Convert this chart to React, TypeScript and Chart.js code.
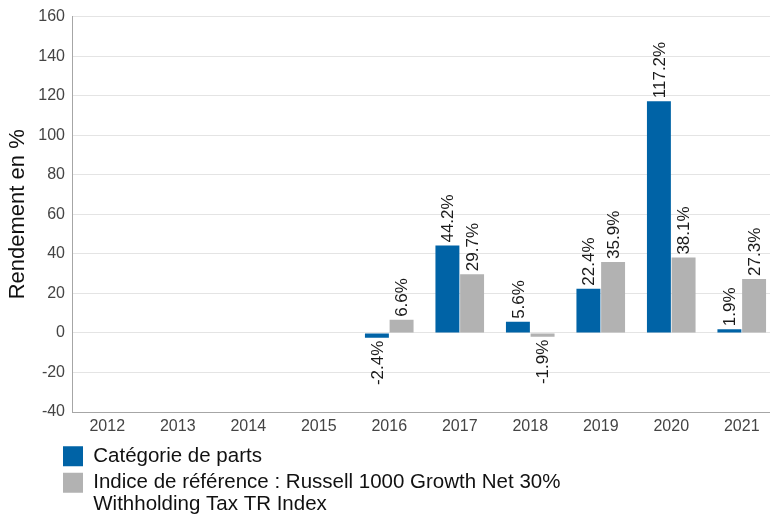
import React, { useEffect, useRef } from "react";
import { Chart, registerables } from "chart.js";

Chart.register(...registerables);

const years = ["2012", "2013", "2014", "2015", "2016", "2017", "2018", "2019", "2020", "2021"];
const fundReturns = [null, null, null, null, -2.4, 44.2, 5.6, 22.4, 117.2, 1.9];
const benchReturns = [null, null, null, null, 6.6, 29.7, -1.9, 35.9, 38.1, 27.3];
const fundLabel = "Catégorie de parts";
const benchLabelLines = ["Indice de référence : Russell 1000 Growth Net 30%", "Withholding Tax TR Index"];
const yTitle = "Rendement en %";

const FONT = "'Liberation Sans', Arial, sans-serif";
const BLUE = "#0063a6";
const GRAY = "#b2b2b2";

const valueLabels = {
  id: "valueLabels",
  afterDatasetsDraw(chart: any) {
    const ctx = chart.ctx;
    ctx.save();
    ctx.font = `17px ${FONT}`;
    ctx.fillStyle = "#1a1a1a";
    chart.data.datasets.forEach((ds: any, di: number) => {
      const meta = chart.getDatasetMeta(di);
      meta.data.forEach((bar: any, i: number) => {
        const v = ds.data[i];
        if (v == null) return;
        const { x, y } = bar.getProps(["x", "y"], true);
        ctx.save();
        ctx.translate(x + 1, v >= 0 ? y - 3 : y + 3);
        ctx.rotate(-Math.PI / 2);
        ctx.textAlign = v >= 0 ? "left" : "right";
        ctx.textBaseline = "middle";
        ctx.fillText(v.toFixed(1) + "%", 0, 0);
        ctx.restore();
      });
    });
    ctx.restore();
  },
};

const legendShift = {
  id: "legendShift",
  afterLayout(chart: any) {
    const l = chart.legend;
    if (l) {
      l.left += 57;
      l.bottom = chart.height;
      l.height = l.bottom - l.top;
    }
  },
};

export default function App() {
  const ref = useRef<HTMLCanvasElement | null>(null);
  useEffect(() => {
    if (!ref.current) return;
    const chart = new Chart(ref.current, {
      type: "bar",
      data: {
        labels: years,
        datasets: [
          {
            label: fundLabel,
            data: fundReturns,
            backgroundColor: BLUE,
            categoryPercentage: 0.7,
            barPercentage: 0.97,
          },
          {
            label: benchLabelLines.join(" "),
            data: benchReturns,
            backgroundColor: GRAY,
            categoryPercentage: 0.7,
            barPercentage: 0.97,
          },
        ],
      },
      options: {
        animation: false,
        responsive: false,
        maintainAspectRatio: false,
        layout: { padding: { left: 0, right: 0, top: 12, bottom: 15 } },
        plugins: {
          tooltip: { enabled: false },
          legend: {
            position: "bottom",
            align: "start",
            labels: {
              boxWidth: 20,
              boxHeight: 20,
              padding: 6,
              color: "#111",
              font: { family: FONT, size: 20.5, lineHeight: 1.06 },
              generateLabels(chart: any) {
                const items = Chart.defaults.plugins.legend.labels.generateLabels(chart);
                items.forEach((it: any, i: number) => {
                  it.lineWidth = 0;
                  if (i === 0) it.text = fundLabel + " ".repeat(70);
                  if (i === 1) it.text = benchLabelLines;
                });
                return items;
              },
            },
          },
        },
        scales: {
          x: {
            grid: { display: false, drawTicks: false },
            border: { display: true, color: "#a6a6a6" },
            ticks: { color: "#444", font: { family: FONT, size: 16 }, padding: 5, maxRotation: 0 },
            afterFit(scale: any) {
              scale.height = 28;
            },
          },
          y: {
            min: -40,
            max: 160,
            ticks: { stepSize: 20, color: "#444", font: { family: FONT, size: 16 }, padding: 7 },
            grid: { color: "#e4e4e4", drawTicks: false },
            border: { display: true, color: "#a6a6a6" },
            title: {
              display: true,
              text: yTitle,
              color: "#111",
              font: { family: FONT, size: 22 },
              padding: { top: 5, bottom: 0 },
            },
            afterFit(scale: any) {
              scale.width = 72;
            },
          },
        },
      },
      plugins: [valueLabels, legendShift],
    });
    return () => chart.destroy();
  }, []);
  return (
    <div style={{ position: "fixed", left: 0, top: 0, width: 770, height: 518, overflow: "hidden", background: "#fff" }}>
      <canvas ref={ref} width={777} height={518} style={{ display: "block" }} />
    </div>
  );
}
